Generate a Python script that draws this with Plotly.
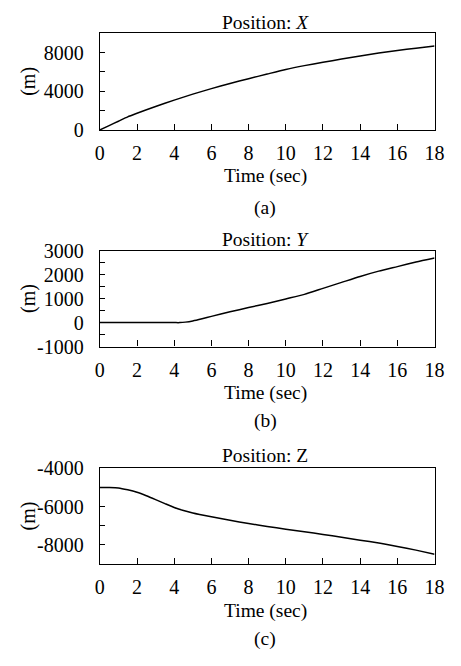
import plotly.graph_objects as go

W, H = 461, 666

# ---- data ----
t_x = [0, 0.5, 1, 1.5, 2, 3, 4, 5, 6, 7, 8, 9, 10, 11, 12, 13, 14, 15, 16, 17, 18]
pos_x = [0, 450, 900, 1350, 1720, 2420, 3080, 3700, 4270, 4800, 5300, 5780, 6250,
         6650, 7000, 7330, 7640, 7950, 8220, 8450, 8680]

t_y = [0, 2, 4, 4.3, 4.6, 5, 5.5, 6, 7, 8, 9, 10, 11, 12, 13, 14, 15, 16, 17, 18]
pos_y = [0, 0, 0, 0, 20, 70, 160, 260, 450, 630, 800, 990, 1180, 1430, 1680, 1930,
         2150, 2340, 2530, 2700]

t_z = [0, 0.5, 1, 1.5, 2, 2.5, 3, 3.5, 4, 4.5, 5, 6, 7, 8, 9, 10, 11, 12, 13, 14,
       15, 16, 17, 18]
pos_z = [-5000, -5000, -5020, -5120, -5250, -5430, -5630, -5840, -6040, -6200,
         -6330, -6530, -6710, -6880, -7030, -7180, -7310, -7450, -7600, -7750,
         -7900, -8080, -8270, -8480]

x_ticks = [0, 2, 4, 6, 8, 10, 12, 14, 16, 18]
x_ticktext = [str(v) for v in x_ticks]

ya_ticks = [0, 4000, 8000]
ya_ticktext = ["0", "4000", "8000"]
yb_ticks = [-1000, 0, 1000, 2000, 3000]
yb_ticktext = ["-1000", "0", "1000", "2000", "3000"]
yc_ticks = [-8000, -6000, -4000]
yc_ticktext = ["-8000", "-6000", "-4000"]

titles = ["Position: <i>X</i>", "Position: <i>Y</i>", "Position: Z"]
labels = ["(a)", "(b)", "(c)"]

FONT = "Liberation Serif, Times New Roman, serif"
FS = 19.5      # titles / axis titles
TFS = 20       # tick labels

# ---- layout geometry in pixels ----
x0px, x1px = 98, 444
panels = [  # (top, bottom, title_y, xtitle_y, label_y)
    (23, 123, 12, 171, 204),
    (248, 347, 236, 395, 424),
    (473, 572, 460, 621, 649),
]


def py(p):
    return 1 - p / H


fig = go.Figure()
series = [(t_x, pos_x), (t_y, pos_y), (t_z, pos_z)]
for i, (tt, vv) in enumerate(series):
    fig.add_trace(go.Scatter(x=tt, y=vv, mode="lines",
                             line=dict(color="black", width=1.5, shape="spline", smoothing=0.6),
                             xaxis="x" if i == 0 else f"x{i+1}",
                             yaxis="y" if i == 0 else f"y{i+1}",
                             showlegend=False, hoverinfo="skip"))

yspecs = [
    ([0, 10000], ya_ticks, ya_ticktext, 2000),
    ([-1000, 3000], yb_ticks, yb_ticktext, 500),
    ([-9000, -4000], yc_ticks, yc_ticktext, 1000),
]

annotations = []
layout = dict(width=W, height=H, margin=dict(l=0, r=0, t=0, b=0),
              paper_bgcolor="white", plot_bgcolor="white",
              font=dict(family=FONT, size=FS, color="black"))

for i, (top, bot, ty, xty, ly) in enumerate(panels):
    xs = "" if i == 0 else str(i + 1)
    rng, tv, tx, mdt = yspecs[i]
    layout[f"xaxis{xs}"] = dict(
        domain=[x0px / W, x1px / W], anchor=f"y{xs}", range=[0, 18],
        tickmode="array", tickvals=x_ticks, ticktext=x_ticktext,
        ticks="inside", ticklen=6, tickwidth=1.2, tickcolor="black",
        showline=True, linecolor="black", linewidth=1.3, mirror=True,
        showgrid=False, zeroline=False, ticklabelstandoff=5,
        tickfont=dict(family=FONT, size=TFS, color="black"))
    layout[f"yaxis{xs}"] = dict(
        domain=[py(bot), py(top)], anchor=f"x{xs}", range=rng,
        tickmode="array", tickvals=tv, ticktext=tx,
        ticks="inside", ticklen=5, tickwidth=1.2, tickcolor="black",
        minor=dict(ticks="inside", dtick=mdt, tick0=0, ticklen=5, tickwidth=1.2,
                   tickcolor="black", showgrid=False),
        showline=True, linecolor="black", linewidth=1.3, mirror=True,
        showgrid=False, zeroline=False, ticklabelstandoff=11,
        tickfont=dict(family=FONT, size=TFS, color="black"))
    cx = 269 / W
    annotations += [
        dict(text=titles[i], x=cx, y=py(ty), xref="paper", yref="paper",
             showarrow=False, xanchor="center", yanchor="middle"),
        dict(text="Time (sec)", x=cx, y=py(xty), xref="paper", yref="paper",
             showarrow=False, xanchor="center", yanchor="middle"),
        dict(text=labels[i], x=cx, y=py(ly), xref="paper", yref="paper",
             showarrow=False, xanchor="center", yanchor="middle"),
        dict(text="(m)", x=24 / W, y=py((top + bot) / 2), xref="paper", yref="paper",
             showarrow=False, xanchor="center", yanchor="middle", textangle=-90,
             font=dict(size=20)),
    ]

layout["annotations"] = annotations
fig.update_layout(**layout)
fig.write_html("out.html", config={"displayModeBar": False},
               post_script="document.body.style.margin='0';")
